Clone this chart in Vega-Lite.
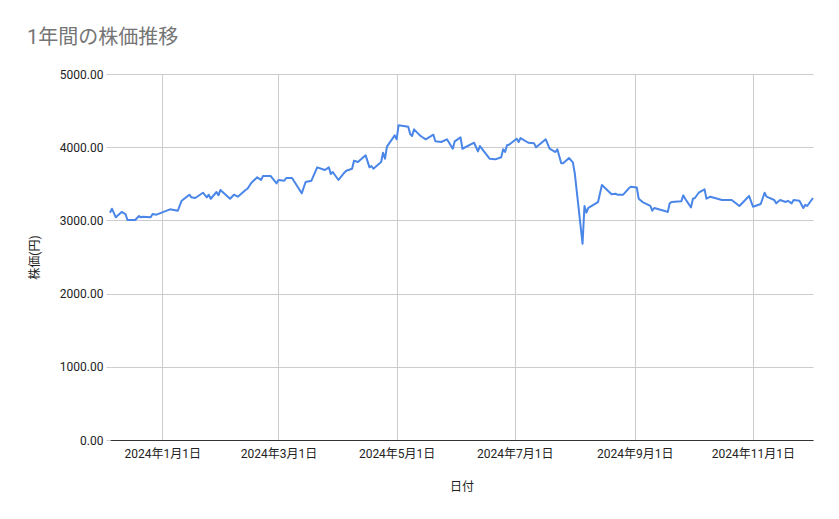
{
  "$schema": "https://vega.github.io/schema/vega-lite/v6.json",
  "width": 703,
  "height": 366,
  "autosize": {"type": "none"},
  "padding": {"left": 110, "top": 74, "right": 26, "bottom": 79},
  "background": "white",
  "title": {
    "text": "1年間の株価推移",
    "anchor": "start",
    "frame": "group",
    "dx": -83,
    "offset": 20,
    "font": "Roboto, Noto Sans CJK JP",
    "fontSize": 20,
    "fontWeight": "normal",
    "color": "#757575"
  },
  "data": {
    "values": [
      {"date": "2023-12-05", "price": 3105},
      {"date": "2023-12-06", "price": 3160},
      {"date": "2023-12-08", "price": 3042},
      {"date": "2023-12-11", "price": 3115},
      {"date": "2023-12-13", "price": 3087},
      {"date": "2023-12-14", "price": 3005},
      {"date": "2023-12-18", "price": 3005},
      {"date": "2023-12-20", "price": 3060},
      {"date": "2023-12-21", "price": 3042},
      {"date": "2023-12-22", "price": 3050},
      {"date": "2023-12-26", "price": 3042},
      {"date": "2023-12-27", "price": 3087},
      {"date": "2023-12-29", "price": 3078},
      {"date": "2024-01-05", "price": 3151},
      {"date": "2024-01-09", "price": 3132},
      {"date": "2024-01-11", "price": 3269},
      {"date": "2024-01-15", "price": 3351},
      {"date": "2024-01-16", "price": 3315},
      {"date": "2024-01-18", "price": 3306},
      {"date": "2024-01-22", "price": 3378},
      {"date": "2024-01-24", "price": 3315},
      {"date": "2024-01-25", "price": 3351},
      {"date": "2024-01-26", "price": 3296},
      {"date": "2024-01-29", "price": 3388},
      {"date": "2024-01-30", "price": 3343},
      {"date": "2024-01-31", "price": 3415},
      {"date": "2024-02-05", "price": 3296},
      {"date": "2024-02-07", "price": 3351},
      {"date": "2024-02-09", "price": 3324},
      {"date": "2024-02-13", "price": 3415},
      {"date": "2024-02-14", "price": 3433},
      {"date": "2024-02-16", "price": 3515},
      {"date": "2024-02-19", "price": 3588},
      {"date": "2024-02-21", "price": 3552},
      {"date": "2024-02-22", "price": 3606},
      {"date": "2024-02-26", "price": 3606},
      {"date": "2024-02-29", "price": 3506},
      {"date": "2024-03-01", "price": 3552},
      {"date": "2024-03-04", "price": 3542},
      {"date": "2024-03-05", "price": 3579},
      {"date": "2024-03-08", "price": 3579},
      {"date": "2024-03-13", "price": 3370},
      {"date": "2024-03-15", "price": 3524},
      {"date": "2024-03-18", "price": 3542},
      {"date": "2024-03-21", "price": 3725},
      {"date": "2024-03-25", "price": 3688},
      {"date": "2024-03-27", "price": 3725},
      {"date": "2024-03-28", "price": 3634},
      {"date": "2024-03-29", "price": 3661},
      {"date": "2024-04-01", "price": 3552},
      {"date": "2024-04-04", "price": 3651},
      {"date": "2024-04-05", "price": 3679},
      {"date": "2024-04-08", "price": 3706},
      {"date": "2024-04-09", "price": 3815},
      {"date": "2024-04-11", "price": 3797},
      {"date": "2024-04-15", "price": 3889},
      {"date": "2024-04-17", "price": 3725},
      {"date": "2024-04-18", "price": 3743},
      {"date": "2024-04-19", "price": 3706},
      {"date": "2024-04-23", "price": 3797},
      {"date": "2024-04-24", "price": 3925},
      {"date": "2024-04-25", "price": 3843},
      {"date": "2024-04-26", "price": 4007},
      {"date": "2024-04-30", "price": 4162},
      {"date": "2024-05-01", "price": 4108},
      {"date": "2024-05-02", "price": 4299},
      {"date": "2024-05-07", "price": 4280},
      {"date": "2024-05-08", "price": 4180},
      {"date": "2024-05-09", "price": 4153},
      {"date": "2024-05-10", "price": 4244},
      {"date": "2024-05-13", "price": 4162},
      {"date": "2024-05-14", "price": 4143},
      {"date": "2024-05-16", "price": 4108},
      {"date": "2024-05-20", "price": 4171},
      {"date": "2024-05-21", "price": 4080},
      {"date": "2024-05-24", "price": 4071},
      {"date": "2024-05-27", "price": 4108},
      {"date": "2024-05-30", "price": 3979},
      {"date": "2024-05-31", "price": 4080},
      {"date": "2024-06-03", "price": 4135},
      {"date": "2024-06-04", "price": 3979},
      {"date": "2024-06-10", "price": 4061},
      {"date": "2024-06-12", "price": 3943},
      {"date": "2024-06-13", "price": 4016},
      {"date": "2024-06-18", "price": 3843},
      {"date": "2024-06-21", "price": 3834},
      {"date": "2024-06-24", "price": 3862},
      {"date": "2024-06-25", "price": 3971},
      {"date": "2024-06-26", "price": 3934},
      {"date": "2024-06-27", "price": 4026},
      {"date": "2024-06-28", "price": 4034},
      {"date": "2024-07-02", "price": 4116},
      {"date": "2024-07-03", "price": 4071},
      {"date": "2024-07-04", "price": 4125},
      {"date": "2024-07-08", "price": 4061},
      {"date": "2024-07-11", "price": 4053},
      {"date": "2024-07-12", "price": 3998},
      {"date": "2024-07-17", "price": 4108},
      {"date": "2024-07-19", "price": 3979},
      {"date": "2024-07-22", "price": 3934},
      {"date": "2024-07-23", "price": 3971},
      {"date": "2024-07-25", "price": 3780},
      {"date": "2024-07-26", "price": 3780},
      {"date": "2024-07-29", "price": 3852},
      {"date": "2024-07-31", "price": 3793},
      {"date": "2024-08-01", "price": 3643},
      {"date": "2024-08-05", "price": 2681},
      {"date": "2024-08-06", "price": 3197},
      {"date": "2024-08-07", "price": 3106},
      {"date": "2024-08-08", "price": 3170},
      {"date": "2024-08-13", "price": 3251},
      {"date": "2024-08-15", "price": 3483},
      {"date": "2024-08-20", "price": 3356},
      {"date": "2024-08-22", "price": 3365},
      {"date": "2024-08-23", "price": 3351},
      {"date": "2024-08-26", "price": 3351},
      {"date": "2024-08-29", "price": 3442},
      {"date": "2024-08-30", "price": 3460},
      {"date": "2024-09-02", "price": 3451},
      {"date": "2024-09-03", "price": 3296},
      {"date": "2024-09-05", "price": 3251},
      {"date": "2024-09-09", "price": 3197},
      {"date": "2024-09-10", "price": 3132},
      {"date": "2024-09-11", "price": 3169},
      {"date": "2024-09-17", "price": 3124},
      {"date": "2024-09-18", "price": 3115},
      {"date": "2024-09-19", "price": 3233},
      {"date": "2024-09-20", "price": 3251},
      {"date": "2024-09-25", "price": 3260},
      {"date": "2024-09-26", "price": 3342},
      {"date": "2024-09-27", "price": 3296},
      {"date": "2024-09-30", "price": 3178},
      {"date": "2024-10-01", "price": 3296},
      {"date": "2024-10-02", "price": 3306},
      {"date": "2024-10-04", "price": 3378},
      {"date": "2024-10-07", "price": 3424},
      {"date": "2024-10-08", "price": 3296},
      {"date": "2024-10-10", "price": 3324},
      {"date": "2024-10-16", "price": 3279},
      {"date": "2024-10-21", "price": 3279},
      {"date": "2024-10-25", "price": 3197},
      {"date": "2024-10-30", "price": 3333},
      {"date": "2024-11-01", "price": 3187},
      {"date": "2024-11-05", "price": 3224},
      {"date": "2024-11-07", "price": 3378},
      {"date": "2024-11-08", "price": 3324},
      {"date": "2024-11-12", "price": 3279},
      {"date": "2024-11-13", "price": 3233},
      {"date": "2024-11-15", "price": 3279},
      {"date": "2024-11-18", "price": 3251},
      {"date": "2024-11-19", "price": 3269},
      {"date": "2024-11-21", "price": 3233},
      {"date": "2024-11-22", "price": 3279},
      {"date": "2024-11-25", "price": 3269},
      {"date": "2024-11-27", "price": 3169},
      {"date": "2024-11-28", "price": 3214},
      {"date": "2024-11-29", "price": 3197},
      {"date": "2024-12-02", "price": 3306}
    ]
  },
  "mark": {"type": "line", "color": "#4a86e8", "strokeWidth": 2, "strokeJoin": "round"},
  "encoding": {
    "x": {
      "field": "date",
      "type": "temporal",
      "title": "日付",
      "scale": {"nice": false},
      "axis": {
        "values": ["2024-01-01", "2024-03-01", "2024-05-01", "2024-07-01", "2024-09-01", "2024-11-01"],
        "format": "%Y年%-m月%-d日",
        "ticks": false,
        "labelPadding": 8,
        "titlePadding": 22,
        "domainColor": "#333333",
        "domainWidth": 1.2,
        "gridColor": "#cccccc"
      }
    },
    "y": {
      "field": "price",
      "type": "quantitative",
      "title": "株価(円)",
      "scale": {"domain": [0, 5000], "nice": false, "zero": true},
      "axis": {
        "values": [0, 1000, 2000, 3000, 4000, 5000],
        "format": ".2f",
        "domain": false,
        "tickSize": 4,
        "tickColor": "#cccccc",
        "labelPadding": 3,
        "titlePadding": 18,
        "gridColor": "#cccccc"
      }
    }
  },
  "config": {
    "view": {"stroke": null},
    "axis": {
      "labelFont": "Roboto, Noto Sans CJK JP",
      "labelFontSize": 12,
      "labelColor": "#222222",
      "titleFont": "Roboto, Noto Sans CJK JP",
      "titleFontSize": 12,
      "titleFontWeight": "normal",
      "titleColor": "#222222",
      "gridWidth": 1
    }
  }
}
